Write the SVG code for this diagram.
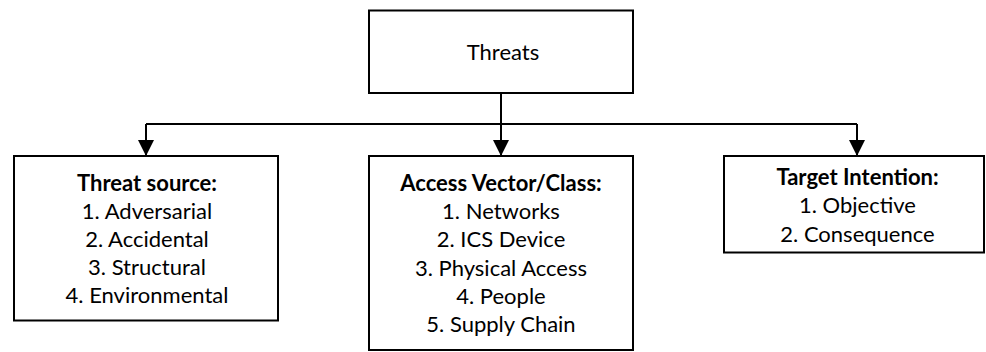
<svg xmlns="http://www.w3.org/2000/svg" width="986" height="352" viewBox="0 0 986 352">
  <style>
    .box { fill: #ffffff; stroke: #000000; stroke-width: 2; }
    .link { fill: none; stroke: #000000; stroke-width: 2; }
    text { font-family: Lato, "Liberation Sans", sans-serif; font-size: 22px; fill: #000000; text-anchor: middle; }
    .head { font-weight: bold; }
  </style>
  <defs>
    <marker id="arrow" markerUnits="userSpaceOnUse" markerWidth="16" markerHeight="16" refX="16" refY="8" orient="auto">
      <path d="M0,0 L16,8 L0,16 Z" fill="#000000"/>
    </marker>
  </defs>

  <g id="connectors">
    <path class="link" d="M501,93 V124"/>
    <path class="link" d="M146,124 H857"/>
    <path class="link" d="M146,124 V156" marker-end="url(#arrow)"/>
    <path class="link" d="M501,124 V156" marker-end="url(#arrow)"/>
    <path class="link" d="M857,124 V156" marker-end="url(#arrow)"/>
  </g>

  <g id="threats">
    <rect class="box" x="369" y="10.5" width="264" height="82.5"/>
    <text x="503" y="59.5">Threats</text>
  </g>

  <g id="threat-source">
    <rect class="box" x="14" y="156" width="264" height="164.5"/>
    <text class="head" x="147" y="190.7">Threat source:</text>
    <text x="147" y="218.5">1. Adversarial</text>
    <text x="147" y="246.8">2. Accidental</text>
    <text x="147" y="275">3. Structural</text>
    <text x="147" y="303.3">4. Environmental</text>
  </g>

  <g id="access-vector">
    <rect class="box" x="369" y="156" width="264" height="194"/>
    <text class="head" x="501" y="190.7">Access Vector/Class:</text>
    <text x="501" y="219">1. Networks</text>
    <text x="501" y="247.3">2. ICS Device</text>
    <text x="501" y="275.6">3. Physical Access</text>
    <text x="501" y="303.9">4. People</text>
    <text x="501" y="332.2">5. Supply Chain</text>
  </g>

  <g id="target-intention">
    <rect class="box" x="724" y="156" width="260" height="96.5"/>
    <text class="head" x="857.5" y="185">Target Intention:</text>
    <text x="857.5" y="213.3">1. Objective</text>
    <text x="857.5" y="241.7">2. Consequence</text>
  </g>
</svg>
